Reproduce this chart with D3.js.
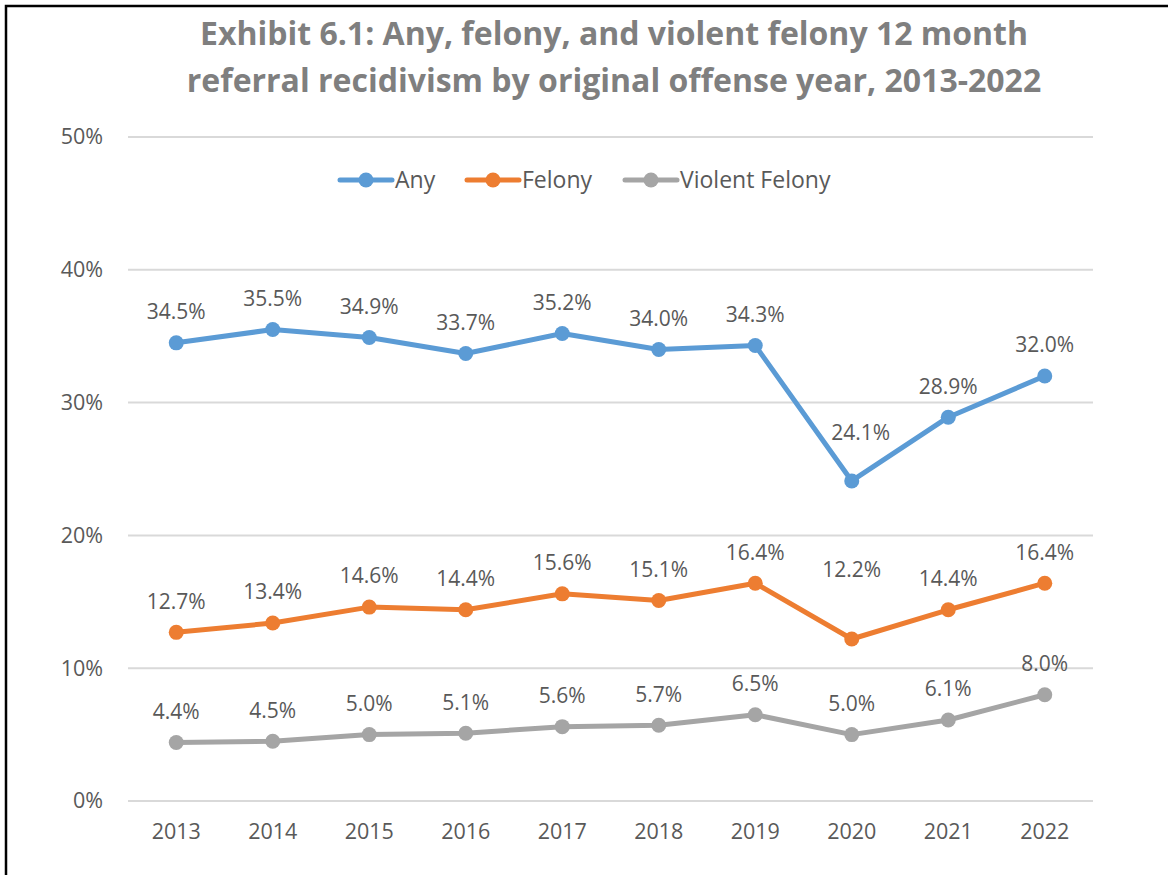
<!DOCTYPE html>
<html>
<head>
<meta charset="utf-8">
<script src="https://cdn.jsdelivr.net/npm/d3@7"></script>
<style>
  body { margin: 0; background: #fff; }
  svg { display: block; font-family: "Open Sans", Lato, sans-serif; }
  .grid line { stroke: #d9d9d9; stroke-width: 2; }
  .axis text { fill: #595959; font-size: 21.5px; }
  .lbl { fill: #595959; font-size: 21px; text-anchor: middle; }
</style>
</head>
<body>
<div id="chart"></div>
<script>
const years = ['2013', '2014', '2015', '2016', '2017', '2018', '2019', '2020', '2021', '2022'];
const anyValues = [34.5, 35.5, 34.9, 33.7, 35.2, 34.0, 34.3, 24.1, 28.9, 32.0];
const felonyValues = [12.7, 13.4, 14.6, 14.4, 15.6, 15.1, 16.4, 12.2, 14.4, 16.4];
const violentValues = [4.4, 4.5, 5.0, 5.1, 5.6, 5.7, 6.5, 5.0, 6.1, 8.0];
const yTicks = [0, 10, 20, 30, 40, 50];
const titleLines = [
  'Exhibit 6.1: Any, felony, and violent felony 12 month',
  'referral recidivism by original offense year, 2013-2022'
];

const series = [
  { name: 'Any', values: anyValues, color: '#5b9bd5' },
  { name: 'Felony', values: felonyValues, color: '#ed7d31' },
  { name: 'Violent Felony', values: violentValues, color: '#a5a5a5' }
];

const width = 1168;
const height = 875;
const margin = { top: 137, right: 75, bottom: 74, left: 128 };

const svg = d3.select('#chart')
  .append('svg')
  .attr('width', width)
  .attr('height', height);

// frame (cropped on right / bottom like the source image)
svg.append('rect')
  .attr('x', 6).attr('y', 6)
  .attr('width', width + 10).attr('height', height + 10)
  .attr('fill', 'none')
  .attr('stroke', '#000')
  .attr('stroke-width', 2.5);

svg.append('g')
  .selectAll('text')
  .data(titleLines)
  .join('text')
  .attr('x', 614)
  .attr('y', (d, i) => 45 + i * 47)
  .attr('text-anchor', 'middle')
  .attr('fill', '#7f7f7f')
  .attr('font-size', 32)
  .attr('font-weight', 'bold')
  .text(d => d);

const x = d3.scaleBand()
  .domain(years)
  .range([margin.left, width - margin.right]);

const y = d3.scaleLinear()
  .domain([0, 50])
  .range([height - margin.bottom, margin.top]);

// gridlines
svg.append('g')
  .attr('class', 'grid')
  .selectAll('line')
  .data(yTicks)
  .join('line')
  .attr('x1', margin.left)
  .attr('x2', width - margin.right)
  .attr('y1', d => y(d))
  .attr('y2', d => y(d));

svg.append('g')
  .attr('class', 'y axis')
  .attr('transform', `translate(${margin.left - 22},0)`)
  .call(d3.axisLeft(y).tickValues(yTicks).tickFormat(d => d + '%').tickSize(0))
  .call(g => g.attr('font-family', null).attr('font-size', null))
  .call(g => g.select('.domain').remove());

svg.append('g')
  .attr('class', 'x axis')
  .attr('transform', `translate(0,${height - margin.bottom + 20})`)
  .call(d3.axisBottom(x).tickSize(0))
  .call(g => g.attr('font-family', null).attr('font-size', null))
  .call(g => g.select('.domain').remove());

const line = d3.line()
  .x((d, i) => x(years[i]) + x.bandwidth() / 2)
  .y(d => y(d));

series.forEach(s => {
  const g = svg.append('g').attr('class', 'series');
  g.append('path')
    .attr('d', line(s.values))
    .attr('fill', 'none')
    .attr('stroke', s.color)
    .attr('stroke-width', 5)
    .attr('stroke-linejoin', 'round')
    .attr('stroke-linecap', 'round');
  g.selectAll('circle')
    .data(s.values)
    .join('circle')
    .attr('cx', (d, i) => x(years[i]) + x.bandwidth() / 2)
    .attr('cy', d => y(d))
    .attr('r', 7.5)
    .attr('fill', s.color);
  g.selectAll('text')
    .data(s.values)
    .join('text')
    .attr('class', 'lbl')
    .attr('x', (d, i) => x(years[i]) + x.bandwidth() / 2 + (years[i] === '2020' && s.name === 'Any' ? 9 : 0))
    .attr('y', (d, i) => {
      // labels at the 2020 dip sit higher to clear the line
      let off = 31;
      if (years[i] === '2020' && s.name === 'Any') off = 48;
      if (years[i] === '2020' && s.name === 'Felony') off = 69;
      return y(d) - off;
    })
    .attr('dy', '0.35em')
    .text(d => d.toFixed(1) + '%');
});

// legend
const legendX = [340, 467, 625];
const legend = svg.append('g').attr('class', 'legend');
series.forEach((s, i) => {
  const lg = legend.append('g').attr('transform', `translate(${legendX[i]},180)`);
  lg.append('line')
    .attr('x1', 0).attr('x2', 52)
    .attr('stroke', s.color)
    .attr('stroke-width', 5)
    .attr('stroke-linecap', 'round');
  lg.append('circle').attr('cx', 26).attr('r', 7.5).attr('fill', s.color);
  lg.append('text')
    .attr('x', 55)
    .attr('dy', '0.35em')
    .attr('fill', '#595959')
    .attr('font-size', 23)
    .text(s.name);
});
</script>
</body>
</html>
